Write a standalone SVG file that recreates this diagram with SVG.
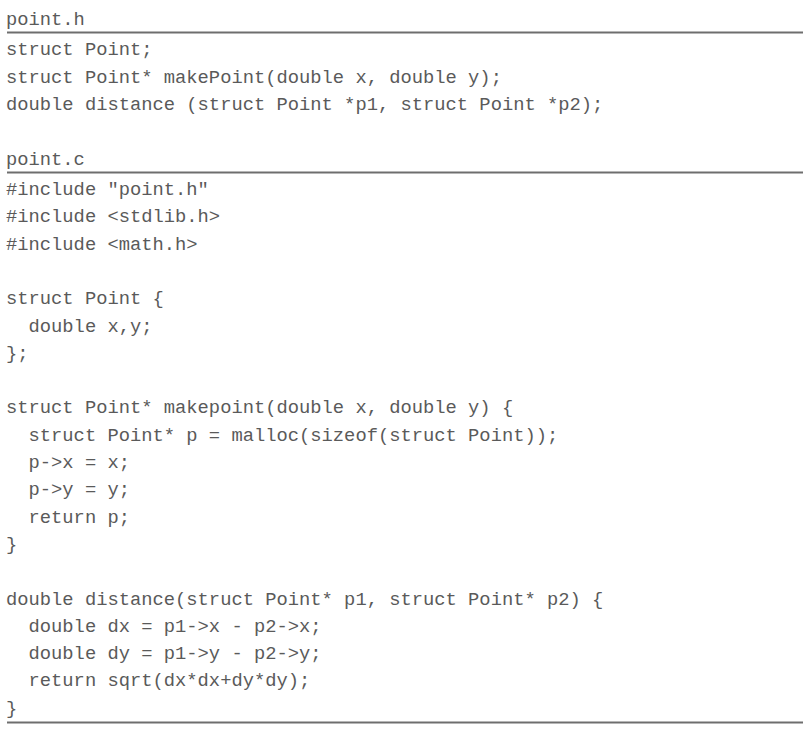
<svg xmlns="http://www.w3.org/2000/svg" width="809" height="736" viewBox="0 0 809 736">
<style>
  .code { font-family: "Liberation Mono", "Courier New", monospace; font-size: 18.8px; fill: #5a5a5a; white-space: pre; }
  .rule { stroke: #6e6e6e; stroke-width: 2.2; }
</style>
<rect width="809" height="736" fill="#ffffff"/>
<g id="point_h">
  <text class="code" x="6" y="25">point.h</text>
  <line class="rule" x1="7" y1="32.5" x2="803" y2="32.5"/>
  <text class="code" x="6" y="55">struct Point;</text>
  <text class="code" x="6" y="82.5">struct Point* makePoint(double x, double y);</text>
  <text class="code" x="6" y="110">double distance (struct Point *p1, struct Point *p2);</text>
</g>
<g id="point_c">
  <text class="code" x="6" y="165">point.c</text>
  <line class="rule" x1="7" y1="172.5" x2="803" y2="172.5"/>
  <text class="code" x="6" y="195" xml:space="preserve">#include "point.h"</text>
  <text class="code" x="6" y="222.3" xml:space="preserve">#include &lt;stdlib.h&gt;</text>
  <text class="code" x="6" y="249.6" xml:space="preserve">#include &lt;math.h&gt;</text>
  <text class="code" x="6" y="304.2" xml:space="preserve">struct Point {</text>
  <text class="code" x="6" y="331.5" xml:space="preserve">  double x,y;</text>
  <text class="code" x="6" y="358.8" xml:space="preserve">};</text>
  <text class="code" x="6" y="413.4" xml:space="preserve">struct Point* makepoint(double x, double y) {</text>
  <text class="code" x="6" y="440.7" xml:space="preserve">  struct Point* p = malloc(sizeof(struct Point));</text>
  <text class="code" x="6" y="468" xml:space="preserve">  p-&gt;x = x;</text>
  <text class="code" x="6" y="495.3" xml:space="preserve">  p-&gt;y = y;</text>
  <text class="code" x="6" y="522.6" xml:space="preserve">  return p;</text>
  <text class="code" x="6" y="549.9" xml:space="preserve">}</text>
  <text class="code" x="6" y="604.5" xml:space="preserve">double distance(struct Point* p1, struct Point* p2) {</text>
  <text class="code" x="6" y="631.8" xml:space="preserve">  double dx = p1-&gt;x - p2-&gt;x;</text>
  <text class="code" x="6" y="659.1" xml:space="preserve">  double dy = p1-&gt;y - p2-&gt;y;</text>
  <text class="code" x="6" y="686.4" xml:space="preserve">  return sqrt(dx*dx+dy*dy);</text>
  <text class="code" x="6" y="713.7" xml:space="preserve">}</text>
  <line class="rule" x1="7" y1="722.5" x2="803" y2="722.5"/>
</g>
</svg>
